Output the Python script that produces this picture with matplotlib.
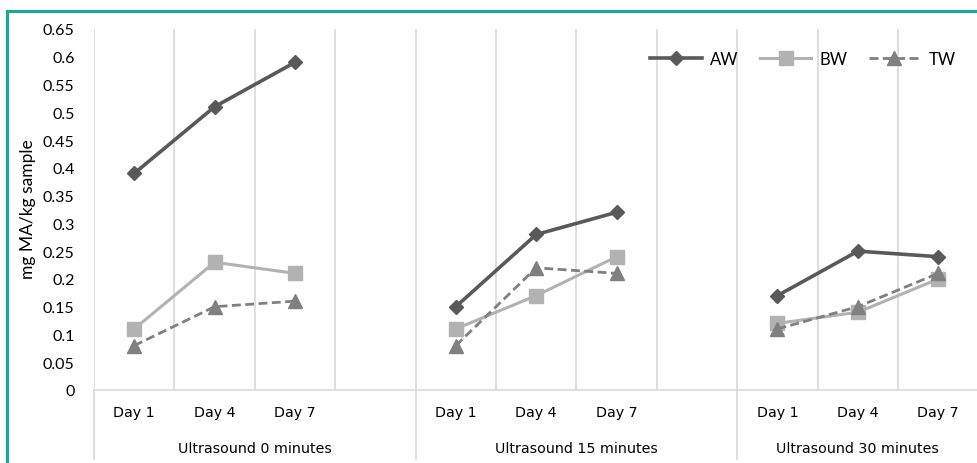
import numpy as np
import matplotlib
matplotlib.use("Agg")
import matplotlib.pyplot as plt
import matplotlib.transforms as mtransforms
from matplotlib.patches import Rectangle

plt.rcParams['font.family'] = ['Lato', 'DejaVu Sans']

days = ['Day 1', 'Day 4', 'Day 7']
groups = ['Ultrasound 0 minutes', 'Ultrasound 15 minutes', 'Ultrasound 30 minutes']

aw = [[0.39, 0.51, 0.59], [0.15, 0.28, 0.32], [0.17, 0.25, 0.24]]
bw = [[0.11, 0.23, 0.21], [0.11, 0.17, 0.24], [0.12, 0.14, 0.20]]
tw = [[0.08, 0.15, 0.16], [0.08, 0.22, 0.21], [0.11, 0.15, 0.21]]

yticks = np.arange(0, 0.651, 0.05)

# category slots: 3 days + 1 empty slot per group (last group has no empty slot)
slots_per_group = 4
n_slots = slots_per_group * (len(groups) - 1) + len(days)

fig = plt.figure(figsize=(9.77, 4.64), dpi=100)
ax = fig.add_axes([94 / 977, 1 - 391 / 464, 884.5 / 977, 361 / 464])

series = [
    ('AW', aw, dict(color='#595959', lw=2.6, ls='-', marker='D', ms=7.5)),
    ('BW', bw, dict(color='#b2b2b2', lw=2.2, ls='-', marker='s', ms=9.5)),
    ('TW', tw, dict(color='#808080', lw=2.0, ls=(0, (3.2, 1.6)), marker='^', ms=9.5)),
]

for name, vals, st in series:
    for g, gv in enumerate(vals):
        x = [g * slots_per_group + i for i in range(len(gv))]
        ax.plot(x, gv, color=st['color'], lw=st['lw'], ls=st['ls'],
                marker=st['marker'], ms=st['ms'], mfc=st['color'], mec=st['color'],
                label=name if g == 0 else None, zorder=3)

ax.set_xlim(-0.5, n_slots - 0.5)
ax.set_ylim(0, 0.65)

# vertical grid at category boundaries
for b in np.arange(-0.5, n_slots - 0.5, 1.0):
    ax.axvline(b, color='#d9d9d9', lw=1.2, zorder=0)

ax.set_yticks(yticks)
ax.set_yticklabels([f"{round(v, 2):g}" for v in yticks])
ax.tick_params(axis='y', length=0, pad=14, labelsize=11.5, colors='#000000')

xt = [g * slots_per_group + i for g in range(len(groups)) for i in range(len(days))]
ax.set_xticks(xt)
ax.set_xticklabels(days * len(groups), fontfamily='DejaVu Sans')
ax.tick_params(axis='x', length=0, pad=11, labelsize=10.3)

for s in ['top', 'right', 'left']:
    ax.spines[s].set_visible(False)
ax.spines['bottom'].set_color('#d9d9d9')
ax.spines['bottom'].set_linewidth(1.2)

trans = mtransforms.blended_transform_factory(ax.transData, ax.transAxes)
for g, name in enumerate(groups):
    start = g * slots_per_group - 0.5
    end = min(start + slots_per_group, n_slots - 0.5)
    ax.plot([start, start], [0, -0.19], color='#d9d9d9', lw=1.2,
            transform=trans, clip_on=False)
    ax.text((start + end) / 2, -0.162, name, transform=trans,
            ha='center', va='center', fontsize=10.3, fontfamily='DejaVu Sans')

fig.text(28 / 977, 1 - 209 / 464, 'mg MA/kg sample', rotation=90,
         ha='center', va='center', fontsize=12.5)

leg = ax.legend(loc='center right', bbox_to_anchor=(964 / 977, 1 - 60 / 464),
                bbox_transform=fig.transFigure, ncol=3, frameon=False,
                handlelength=3.1, columnspacing=1.25, handletextpad=0.5,
                fontsize=12, borderpad=0)

fig.patches.append(Rectangle((7 / 977, -0.1), 1.2, 1 - 12 / 464 + 0.1,
                             transform=fig.transFigure, fill=False,
                             edgecolor='#17a99a', lw=2.2))

fig.savefig('out.png', dpi=100)
